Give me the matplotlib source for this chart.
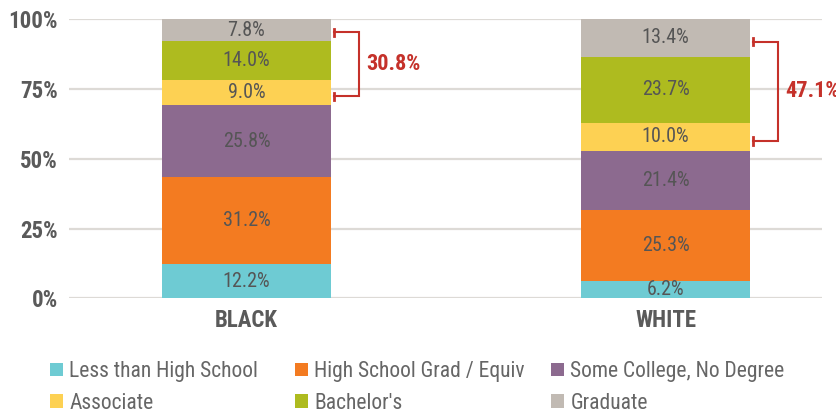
import matplotlib
matplotlib.use("Agg")
import matplotlib.pyplot as plt
from matplotlib import font_manager
import numpy as np

# ---- data ----
groups = ["BLACK", "WHITE"]
levels = ["Less than High School", "High School Grad / Equiv", "Some College, No Degree",
          "Associate", "Bachelor's", "Graduate"]
less_hs = [12.2, 6.2]
hs_grad = [31.2, 25.3]
some_college = [25.8, 21.4]
associate = [9.0, 10.0]
bachelors = [14.0, 23.7]
graduate = [7.8, 13.4]
yticks = [0, 25, 50, 75, 100]
ytick_labels = ["0%", "25%", "50%", "75%", "100%"]

colors = ["#6ECBD3", "#F37B21", "#8C6A8F", "#FDD153", "#AEBB1F", "#C1BAB3"]

# ---- font choice ----
names = {f.name for f in font_manager.fontManager.ttflist}
family = None
for cand in ["Roboto Condensed", "Liberation Sans Narrow", "Noto Sans Condensed",
             "Open Sans Condensed", "DejaVu Sans Condensed"]:
    if cand in names:
        family = cand
        break
stretch = "normal"
if family is None:
    condensed = [f for f in font_manager.fontManager.ttflist
                 if f.name in ("Roboto", "Noto Sans", "Open Sans") and
                 str(f.stretch) in ("condensed", "semi-condensed", "extra-condensed", "75", "87.5", "62.5")]
    if condensed:
        family = condensed[0].name
        stretch = "condensed"
    else:
        family = "DejaVu Sans"
        stretch = "condensed"
plt.rcParams["font.family"] = [family, "DejaVu Sans"]
plt.rcParams["font.stretch"] = stretch

fig = plt.figure(figsize=(8.36, 4.13), dpi=100)
ax = fig.add_axes([69 / 836, 1 - 298.3 / 413, (822 - 69) / 836, (298.3 - 19.3) / 413])

x = np.arange(len(groups))
width = 0.403
series = [less_hs, hs_grad, some_college, associate, bachelors, graduate]
bottom = np.zeros(len(groups))
containers = []
for vals, col, lab in zip(series, colors, levels):
    vals = np.array(vals)
    c = ax.bar(x, vals, width, bottom=bottom, color=col, label=lab, zorder=3, linewidth=0)
    containers.append(c)
    for xi, b, v in zip(x, bottom, vals):
        ax.text(xi, b + v / 2, f"{v:.1f}%", ha="center", va="center",
                fontsize=14.5, color="#555555", zorder=4)
    bottom = bottom + vals

ax.set_xlim(-0.4236, 1.3735)
ax.set_ylim(0, 100)
ax.set_yticks(yticks)
ax.set_yticklabels(ytick_labels, fontsize=16.5, fontweight="bold", color="#5A5A5A")
ax.set_xticks(x)
ax.set_xticklabels(groups, fontsize=16.5, fontweight="bold", color="#5A5A5A")
ax.tick_params(axis="both", length=0)
ax.tick_params(axis="y", pad=8)
ax.tick_params(axis="x", pad=8)
for s in ax.spines.values():
    s.set_visible(False)
ax.yaxis.grid(True, color="#DDDAD6", linewidth=1.6, zorder=0)
ax.set_axisbelow(True)

# ---- brackets: Associate + Bachelor's + Graduate ----
red = "#C5312A"
assoc_start = np.array(less_hs) + np.array(hs_grad) + np.array(some_college)
totals = np.array(associate) + np.array(bachelors) + np.array(graduate)
for xi, s0, a, g, tot in zip(x, assoc_start, associate, graduate, totals):
    ylo = s0 + 0.35 * a
    yhi = 100 - 0.6 * g
    xt = xi + width / 2 + 0.008
    xv = xi + width / 2 + 0.067
    ax.plot([xt, xv, xv, xt], [yhi, yhi, ylo, ylo], color=red, lw=1.5, zorder=5,
            solid_joinstyle="miter", clip_on=False)
    for yy in (ylo, yhi):
        ax.plot([xt, xt], [yy - 1.3, yy + 1.3], color=red, lw=2.0, zorder=5, clip_on=False)
    ax.annotate(f"{tot:.1f}%", xy=(xv, (ylo + yhi) / 2), xytext=(5.5, 0),
                textcoords="offset points", ha="left", va="center",
                fontsize=16, fontweight="bold", color=red, annotation_clip=False)

# ---- legend: three fixed columns ----
col_x = [50 / 836, 295 / 836, 551 / 836]
for k, cx in enumerate(col_x):
    hs = [containers[k], containers[k + 3]]
    ls = [levels[k], levels[k + 3]]
    leg = fig.legend(hs, ls, loc="upper left", bbox_to_anchor=(cx, 1 - 361 / 413),
                     frameon=False, fontsize=15.5, handlelength=0.6, handleheight=0.6,
                     handletextpad=0.3, labelspacing=0.5, borderaxespad=0, borderpad=0)
    for t in leg.get_texts():
        t.set_color("#666666")

fig.savefig("out.png", dpi=100)
